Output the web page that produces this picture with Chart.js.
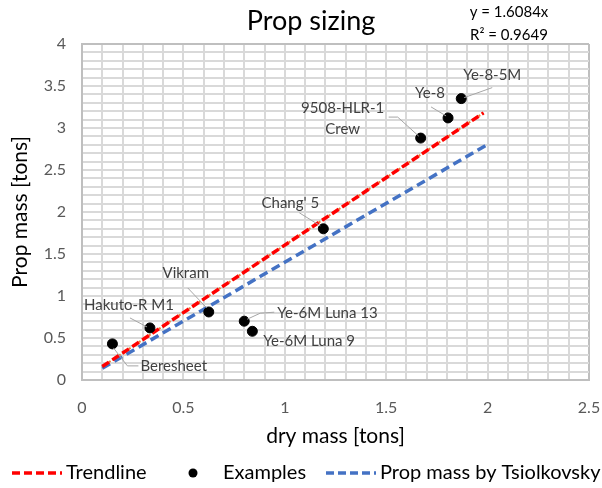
<!DOCTYPE html>
<html>
<head>
<meta charset="utf-8">
<script src="https://cdn.jsdelivr.net/npm/chart.js@4.4.1/dist/chart.umd.min.js"></script>
<style>
  html, body { margin: 0; padding: 0; background: #fff; }
  #wrap { width: 602px; height: 488px; }
</style>
</head>
<body>
<div id="wrap"><canvas id="chart"></canvas></div>
<script>
const exampleNames = ["Beresheet", "Hakuto-R M1", "Vikram", "Ye-6M Luna 13", "Ye-6M Luna 9",
  "Chang' 5", "9508-HLR-1 Crew", "Ye-8", "Ye-8-5M"];
const dryMass = [0.15, 0.335, 0.625, 0.80, 0.84, 1.19, 1.67, 1.805, 1.87];
const propMass = [0.43, 0.62, 0.81, 0.70, 0.58, 1.80, 2.88, 3.12, 3.35];

const trendX = [0.1, 1.98];
const trendY = [0.16, 3.18];
const tsiolX = [0.1, 1.99];
const tsiolY = [0.14, 2.79];

const xTickLabels = ["0", "0.5", "1", "1.5", "2", "2.5"];
const yTickLabels = ["0", "0.5", "1", "1.5", "2", "2.5", "3", "3.5", "4"];

const FONT = "Lato, 'Open Sans', sans-serif";
const toPts = (xs, ys) => xs.map((x, i) => ({ x: x, y: ys[i] }));

// label layout: text offset and leader line, relative to the point (px)
const labelLayout = [
  { dx: 28, dy: 22, align: "left", lead: [[1, 4], [15, 22], [26, 22]] },
  { dx: -21, dy: -23, align: "center", lead: [[-20, -10], [-3, -1]] },
  { dx: -23, dy: -39, align: "center", lead: [[-21, -24], [-2, -4]] },
  { dx: 33, dy: -8, align: "left", lead: [[30, -9], [16, -8], [3, -2]] },
  { dx: 11, dy: 10, align: "left", lead: null },
  { dx: -33, dy: -26, align: "center", lead: [[-24, -16], [-3, -3]] },
  { dx: -78, dy: -30, align: "center", lines: ["9508-HLR-1", "Crew"], lead: [[-32, -21], [-23, -21], [-2, -2]] },
  { dx: -18, dy: -25, align: "center", lead: [[-17, -11], [-2, -2]] },
  { dx: 31, dy: -23, align: "center", lead: [[31, -11], [3, -1]] },
];

const decorations = {
  id: "decorations",
  afterDatasetsDraw(chart) {
    const c = chart.ctx;
    const xs = chart.scales.x, ys = chart.scales.y;
    c.save();
    // point labels
    c.font = "15px " + FONT;
    c.fillStyle = "#404040";
    c.textBaseline = "middle";
    exampleNames.forEach((name, i) => {
      const px = xs.getPixelForValue(dryMass[i]);
      const py = ys.getPixelForValue(propMass[i]);
      const L = labelLayout[i];
      if (L.lead) {
        c.strokeStyle = "#a6a6a6";
        c.lineWidth = 1;
        c.beginPath();
        L.lead.forEach((p, k) => k ? c.lineTo(px + p[0], py + p[1]) : c.moveTo(px + p[0], py + p[1]));
        c.stroke();
      }
      c.textAlign = L.align;
      const lines = L.lines || [name];
      lines.forEach((t, k) => c.fillText(t, px + L.dx, py + L.dy + k * 21));
    });
    c.restore();
  },
  afterDraw(chart) {
    const c = chart.ctx;
    c.save();
    c.textBaseline = "middle";
    // title
    c.fillStyle = "#000";
    c.textAlign = "center";
    c.font = "27px " + FONT;
    c.fillText("Prop sizing", 311, 21);
    // trendline equation
    c.font = "15px " + FONT;
    c.fillText("y = 1.6084x", 509, 12);
    c.fillText("R\u00B2 = 0.9649", 509, 35);
    // legend
    const ly = 473;
    c.font = "20px " + FONT;
    c.textAlign = "left";
    c.lineWidth = 3.5;
    c.setLineDash([8, 4]);
    c.strokeStyle = "#ff0000";
    c.beginPath(); c.moveTo(12, ly); c.lineTo(62, ly); c.stroke();
    c.strokeStyle = "#4472c4";
    c.beginPath(); c.moveTo(326, ly); c.lineTo(376, ly); c.stroke();
    c.setLineDash([]);
    c.fillStyle = "#000";
    c.beginPath(); c.arc(193, ly, 4.5, 0, Math.PI * 2); c.fill();
    c.fillText("Trendline", 66, ly);
    c.fillText("Examples", 223, ly);
    c.fillText("Prop mass by Tsiolkovsky", 380, ly);
    c.restore();
  }
};

const tickCb = (labels) => function (value) {
  const v = Math.round(value * 10) / 10;
  const s = String(v);
  return labels.includes(s) ? s : "";
};

const gridColor = (max) => (ctx) => {
  const v = ctx.tick ? ctx.tick.value : 0;
  return Math.abs(v - max) < 1e-6 ? "#bfbfbf" : "#d9d9d9";
};

new Chart(document.getElementById("chart"), {
  type: "scatter",
  data: {
    datasets: [
      {
        label: "Examples",
        data: toPts(dryMass, propMass),
        backgroundColor: "#000",
        borderColor: "#000",
        pointRadius: 5,
        order: 0,
      },
      {
        label: "Trendline",
        data: toPts(trendX, trendY),
        showLine: true,
        borderColor: "#ff0000",
        borderWidth: 3.5,
        borderDash: [8, 4],
        pointRadius: 0,
        order: 1,
      },
      {
        label: "Linear (Examples)",
        data: toPts(trendX, trendY),
        showLine: true,
        borderColor: "#ed7d31",
        borderWidth: 2,
        borderDash: [2, 2],
        pointRadius: 0,
        order: 2,
      },
      {
        label: "Prop mass by Tsiolkovsky",
        data: toPts(tsiolX, tsiolY),
        showLine: true,
        borderColor: "#4472c4",
        borderWidth: 3.5,
        borderDash: [9, 5],
        pointRadius: 0,
        order: 3,
      },
    ],
  },
  options: {
    responsive: true,
    maintainAspectRatio: false,
    animation: false,
    layout: { padding: { left: 8, right: 13, top: 44, bottom: 30 } },
    plugins: {
      legend: { display: false },
      tooltip: { enabled: false },
    },
    scales: {
      x: {
        type: "linear",
        min: 0,
        max: 2.5,
        afterFit: (s) => { s.height = 78; s.paddingRight = 0; s.paddingLeft = 0; },
        ticks: {
          stepSize: 0.1,
          autoSkip: false,
          maxRotation: 0,
          padding: 18,
          color: "#595959",
          font: { family: FONT, size: 16 },
          callback: tickCb(xTickLabels),
        },
        grid: { color: gridColor(2.5), lineWidth: 2, drawTicks: false },
        border: { display: true, color: "#bfbfbf", width: 2 },
        title: {
          display: true,
          text: "dry mass [tons]",
          color: "#000",
          font: { family: FONT, size: 21 },
          padding: { top: 0, bottom: 9 },
        },
      },
      y: {
        type: "linear",
        min: 0,
        max: 4,
        afterFit: (s) => { s.width = 74; s.paddingTop = 0; s.paddingBottom = 0; },
        ticks: {
          stepSize: 0.1,
          autoSkip: false,
          padding: 16,
          color: "#595959",
          font: { family: FONT, size: 16 },
          callback: tickCb(yTickLabels),
        },
        grid: { color: gridColor(4), lineWidth: 2, drawTicks: false },
        border: { display: true, color: "#bfbfbf", width: 2 },
        title: {
          display: true,
          text: "Prop mass [tons]",
          color: "#000",
          font: { family: FONT, size: 21 },
          padding: { top: 0, bottom: 0 },
        },
      },
    },
  },
  plugins: [decorations],
});
</script>
</body>
</html>
